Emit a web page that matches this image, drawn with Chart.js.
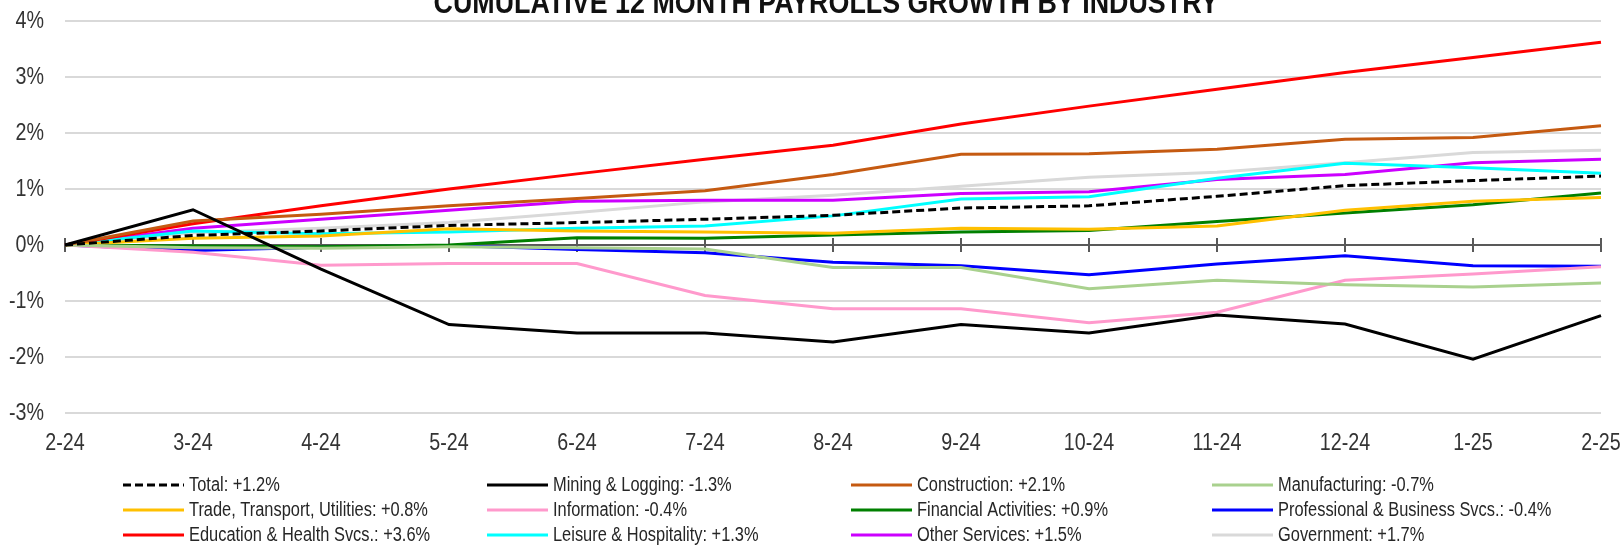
<!DOCTYPE html>
<html>
<head>
<meta charset="utf-8">
<script src="https://cdn.jsdelivr.net/npm/chart.js@4.4.1/dist/chart.umd.min.js"></script>
<style>
  html, body { margin: 0; padding: 0; background: #fff; overflow: hidden; }
  #wrap { position: relative; width: 1620px; height: 552px; }
</style>
</head>
<body>
<div id="wrap">
  <canvas id="grafico" width="1620" height="552"></canvas>
</div>
<script>
// ---------- dados (variação acumulada, %) ----------
const titulo = 'CUMULATIVE 12 MONTH PAYROLLS GROWTH BY INDUSTRY';
const meses = ['2-24', '3-24', '4-24', '5-24', '6-24', '7-24', '8-24', '9-24', '10-24', '11-24', '12-24', '1-25', '2-25'];
const yTicks = [-3, -2, -1, 0, 1, 2, 3, 4];

const total         = [0, 0.17, 0.25, 0.35, 0.40, 0.46, 0.53, 0.66, 0.70, 0.87, 1.06, 1.15, 1.23];
const mineracao     = [0, 0.63, -0.43, -1.42, -1.57, -1.57, -1.73, -1.42, -1.57, -1.25, -1.41, -2.04, -1.26];
const construcao    = [0, 0.43, 0.55, 0.70, 0.83, 0.97, 1.26, 1.62, 1.63, 1.71, 1.89, 1.92, 2.13];
const manufatura    = [0, -0.05, -0.06, -0.03, -0.05, -0.07, -0.40, -0.40, -0.78, -0.63, -0.71, -0.75, -0.68];
const comercio      = [0, 0.12, 0.16, 0.29, 0.25, 0.23, 0.21, 0.30, 0.28, 0.34, 0.62, 0.78, 0.85];
const informacao    = [0, -0.13, -0.36, -0.33, -0.33, -0.90, -1.14, -1.14, -1.39, -1.20, -0.63, -0.52, -0.39];
const financeiro    = [0, -0.02, -0.03, 0.00, 0.13, 0.12, 0.18, 0.23, 0.26, 0.42, 0.57, 0.72, 0.93];
const profissionais = [0, -0.10, -0.04, -0.01, -0.08, -0.14, -0.31, -0.37, -0.53, -0.34, -0.19, -0.37, -0.38];
const educacao      = [0, 0.38, 0.70, 1.00, 1.27, 1.53, 1.78, 2.16, 2.48, 2.78, 3.08, 3.35, 3.62];
const lazer         = [0, 0.25, 0.20, 0.23, 0.30, 0.34, 0.52, 0.82, 0.86, 1.19, 1.46, 1.38, 1.28];
const outros        = [0, 0.30, 0.46, 0.62, 0.78, 0.80, 0.80, 0.92, 0.95, 1.17, 1.26, 1.47, 1.53];
const governo       = [0, 0.22, 0.30, 0.40, 0.58, 0.77, 0.89, 1.05, 1.21, 1.30, 1.47, 1.65, 1.69];

const nomes = [
  'Total: +1.2%', 'Mining & Logging: -1.3%', 'Construction: +2.1%', 'Manufacturing: -0.7%',
  'Trade, Transport, Utilities: +0.8%', 'Information: -0.4%', 'Financial Activities: +0.9%', 'Professional & Business Svcs.: -0.4%',
  'Education & Health Svcs.: +3.6%', 'Leisure & Hospitality: +1.3%', 'Other Services: +1.5%', 'Government: +1.7%',
];
const series = [total, mineracao, construcao, manufatura, comercio, informacao, financeiro, profissionais, educacao, lazer, outros, governo];
const cores = ['#000000', '#000000', '#C55A11', '#A9D18E', '#FFC000', '#FF99CC', '#008000', '#0000FF', '#FF0000', '#00FFFF', '#CC00FF', '#D9D9D9'];

const FONTE = "'Liberation Sans', Arial, sans-serif";
const ESTREITO = 0.82; // imita Arial Narrow

// texto "estreito": escala horizontal do contexto
function texto(ctx, str, x, y, align, escala = ESTREITO) {
  ctx.save();
  ctx.translate(x, y);
  ctx.scale(escala, 1);
  ctx.textAlign = align;
  ctx.fillText(str, 0, 0);
  ctx.restore();
}

// ---------- plugins ----------
// marcas verticais sobre a linha do zero
const marcasZero = {
  id: 'marcasZero',
  beforeDatasetsDraw(chart) {
    const { ctx, scales: { x, y } } = chart;
    const y0 = y.getPixelForValue(0);
    ctx.save();
    ctx.strokeStyle = '#595959';
    ctx.lineWidth = 2;
    meses.forEach((_, i) => {
      const px = x.getPixelForValue(i);
      ctx.beginPath();
      ctx.moveTo(px, y0 - 7);
      ctx.lineTo(px, y0 + 7);
      ctx.stroke();
    });
    ctx.restore();
  },
};

// rótulos dos eixos, título e legenda em grade
const textos = {
  id: 'textos',
  afterDraw(chart) {
    const { ctx, scales: { x, y } } = chart;
    ctx.save();
    ctx.textBaseline = 'middle';

    // eixo Y
    ctx.font = `24px ${FONTE}`;
    ctx.fillStyle = '#333';
    y.ticks.forEach(t => texto(ctx, t.value + '%', 44, y.getPixelForValue(t.value), 'right'));

    // eixo X (embaixo do gráfico)
    x.getLabels().forEach((lab, i) => texto(ctx, lab, x.getPixelForValue(i), 443, 'center'));

    // título (cortado no topo, como no original)
    ctx.font = `bold 31px ${FONTE}`;
    ctx.fillStyle = '#111';
    ctx.textBaseline = 'alphabetic';
    const w = ctx.measureText(titulo).width;
    texto(ctx, titulo, 826, 13, 'center', 785 / w);

    // legenda
    const colX = [189, 553, 917, 1278];
    const linY = [485, 510, 535];
    ctx.font = `20px ${FONTE}`;
    ctx.textBaseline = 'middle';
    chart.data.datasets.forEach((ds, k) => {
      const tx = colX[k % 4];
      const ty = linY[Math.floor(k / 4)];
      ctx.strokeStyle = ds.borderColor;
      ctx.lineWidth = 3;
      ctx.setLineDash(ds.borderDash || []);
      ctx.beginPath();
      ctx.moveTo(tx - 66, ty);
      ctx.lineTo(tx - 5, ty);
      ctx.stroke();
      ctx.setLineDash([]);
      ctx.fillStyle = '#262626';
      texto(ctx, ds.label, tx, ty, 'left');
    });
    ctx.restore();
  },
};

// ---------- gráfico ----------
new Chart(document.getElementById('grafico'), {
  type: 'line',
  data: {
    labels: meses,
    datasets: series.map((dados, k) => ({
      label: nomes[k],
      data: dados,
      borderColor: cores[k],
      borderWidth: 3,
      borderDash: k === 0 ? [8, 4] : [],
      pointRadius: 0,
      tension: 0,
      fill: false,
    })),
  },
  options: {
    responsive: false,
    animation: false,
    layout: { padding: { left: 0, right: 19, top: 21, bottom: 99 } },
    plugins: {
      legend: { display: false },
      title: { display: false },
      tooltip: { enabled: false },
    },
    scales: {
      x: {
        offset: false,
        grid: { display: false, drawTicks: false },
        border: { display: false },
        ticks: { display: false, autoSkip: false },
        afterFit(scale) { scale.height = 40; },
      },
      y: {
        min: -3,
        max: 4,
        afterBuildTicks(scale) { scale.ticks = yTicks.map(v => ({ value: v })); },
        grid: {
          drawTicks: false,
          lineWidth: 2,
          color: (c) => c.tick && c.tick.value === 0 ? '#595959' : '#D9D9D9',
        },
        border: { display: false },
        ticks: { display: false },
        afterFit(scale) { scale.width = 65; },
      },
    },
  },
  plugins: [marcasZero, textos],
});
</script>
</body>
</html>
